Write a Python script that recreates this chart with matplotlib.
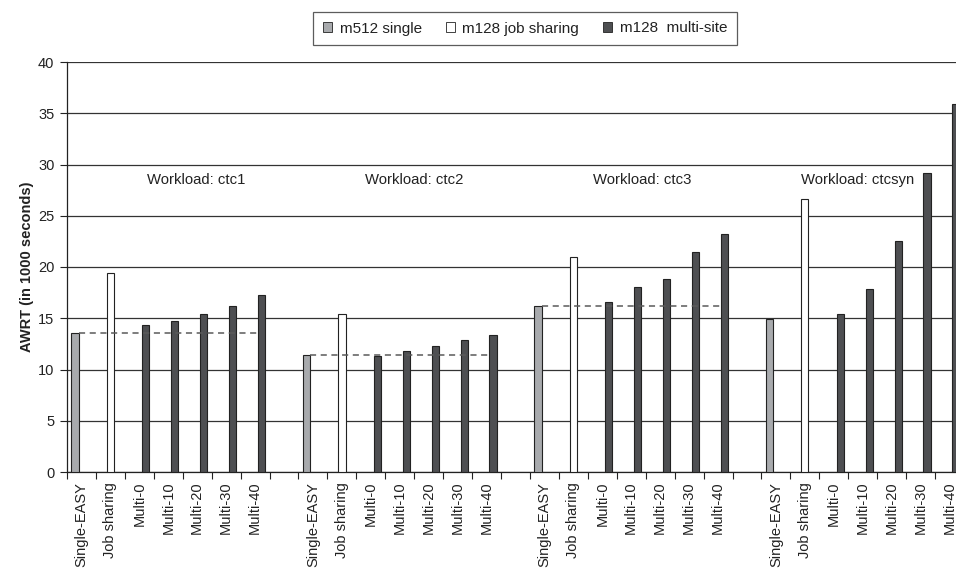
import numpy as np
import matplotlib
matplotlib.use("Agg")
import matplotlib.pyplot as plt
from matplotlib.patches import Patch

plt.rcParams['font.family'] = ['Liberation Sans', 'DejaVu Sans']

# waarden (AWRT in 1000 seconden)
workloads = ["ctc1", "ctc2", "ctc3", "ctcsyn"]
multi_labels = ["Multi-0", "Multi-10", "Multi-20", "Multi-30", "Multi-40"]
single_easy = [13.6, 11.4, 16.2, 14.95]
job_sharing = [19.4, 15.4, 21.0, 26.6]
multi_ctc1 = [14.3, 14.7, 15.4, 16.2, 17.3]
multi_ctc2 = [11.35, 11.8, 12.3, 12.85, 13.4]
multi_ctc3 = [16.55, 18.05, 18.8, 21.45, 23.2]
multi_ctcsyn = [15.4, 17.9, 22.5, 29.2, 35.9]
multi_site = [multi_ctc1, multi_ctc2, multi_ctc3, multi_ctcsyn]
dashed_groups = [0, 1, 2]

# plaats van de workload-teksten (in categorie-eenheden)
tekst_x = [3.98, 11.49, 19.37, 26.84]

grijs = '#a8aaad'
donker = '#4e4f52'
rand = '#222222'

fig = plt.figure(figsize=(9.56, 5.69), dpi=100)
ax = fig.add_axes([67 / 956, 1 - 472 / 569, 897 / 956, 410 / 569])

w = 0.25
off = 0.225
step = len(multi_labels) + 3  # 7 categorieen + 1 lege plek

labels = []
for g in range(len(workloads)):
    base = g * step
    ax.bar(base - off, single_easy[g], width=w, color=grijs, edgecolor=rand,
           linewidth=0.8, zorder=3)
    ax.bar(base + 1, job_sharing[g], width=w, color='white', edgecolor=rand,
           linewidth=0.8, zorder=3)
    xs = base + 2 + np.arange(len(multi_labels)) + off
    ax.bar(xs, multi_site[g], width=w, color=donker, edgecolor=rand,
           linewidth=0.8, zorder=3)
    if g in dashed_groups:
        ax.hlines(single_easy[g], base - off + w / 2, xs[-1] - w / 2,
                  colors='#5a5a5a', linestyles=(0, (4, 3)), linewidth=1.1,
                  zorder=4)
    ax.text(tekst_x[g], 28.45, "Workload: " + workloads[g], ha='center',
            va='center', fontsize=10.7, color='#222222', zorder=5)
    labels += ["Single-EASY", "Job sharing"] + multi_labels
    if g < len(workloads) - 1:
        labels.append("")

n = len(labels)
ax.set_xlim(-0.5, n - 0.5)
ax.set_ylim(0, 40)
ax.set_yticks(np.arange(0, 41, 5))
ax.tick_params(axis='y', labelsize=10.5, direction='out', length=5,
               width=0.8, colors='#222222', pad=4)
ax.set_xticks(np.arange(n))
ax.set_xticklabels(labels, rotation=90, fontsize=10.5, color='#222222')
ax.set_xticks(np.arange(n + 1) - 0.5, minor=True)
ax.tick_params(axis='x', which='major', length=0, pad=7)
ax.tick_params(axis='x', which='minor', length=5, width=0.8,
               direction='out', colors='#222222')

ax.grid(axis='y', color='#333333', linewidth=0.9, zorder=0)
ax.set_axisbelow(True)
for s in ['top', 'right']:
    ax.spines[s].set_visible(False)
for s in ['left', 'bottom']:
    ax.spines[s].set_color('#222222')
    ax.spines[s].set_linewidth(0.9)

ax.set_ylabel("AWRT (in 1000 seconds)", fontsize=10.5, fontweight='bold',
              color='#222222', labelpad=3)

handles = [Patch(facecolor=grijs, edgecolor=rand, linewidth=0.6),
           Patch(facecolor='white', edgecolor=rand, linewidth=0.6),
           Patch(facecolor=donker, edgecolor=rand, linewidth=0.6)]
leg = fig.legend(handles, ["m512 single", "m128 job sharing", "m128  multi-site"],
                 loc='center', bbox_to_anchor=(525 / 956, 1 - 28.5 / 569),
                 ncol=3, fontsize=11, frameon=True, fancybox=False,
                 handlelength=0.6, handleheight=0.6, handletextpad=0.5,
                 columnspacing=1.55, borderpad=0.65)
leg.get_frame().set_edgecolor('#333333')
leg.get_frame().set_linewidth(0.9)
for t in leg.get_texts():
    t.set_color('#222222')

fig.savefig("out.png", dpi=100)
